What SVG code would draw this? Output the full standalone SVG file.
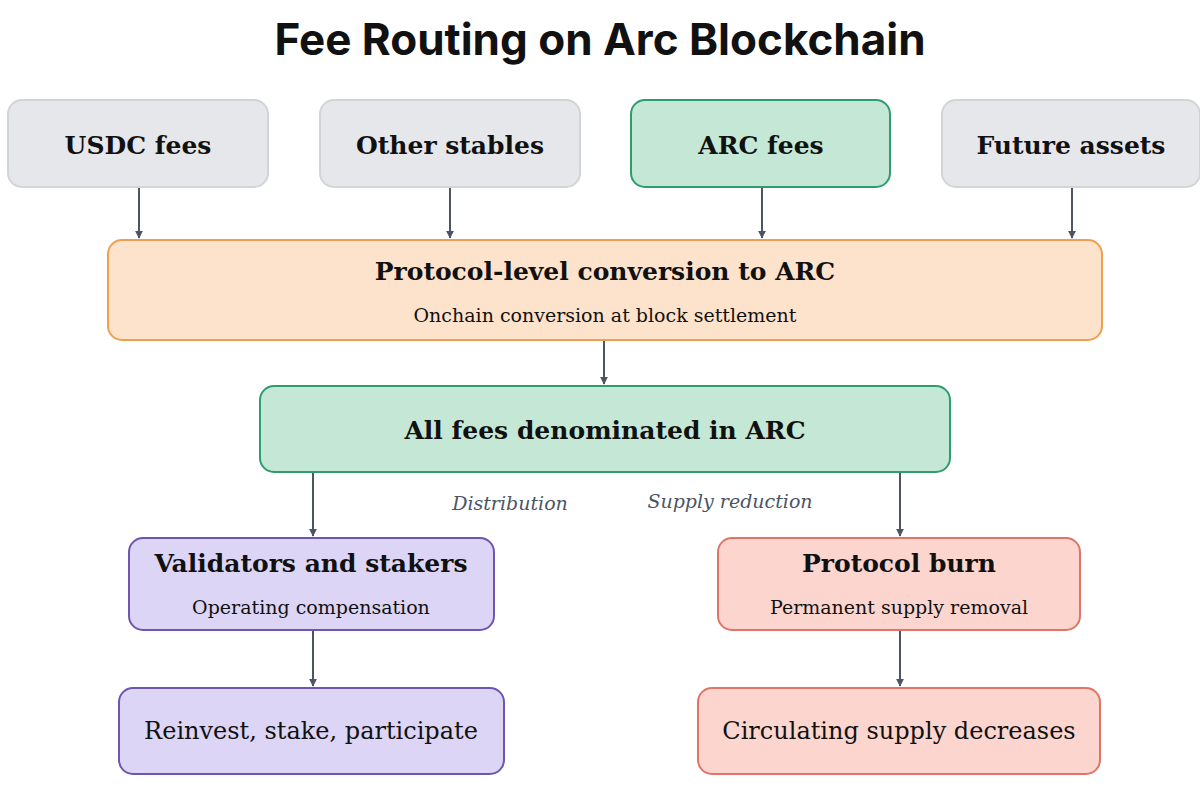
<svg xmlns="http://www.w3.org/2000/svg" width="1200" height="800" viewBox="0 0 1200 800">
<style>
.t{font-family:"DejaVu Serif","Liberation Serif",serif;fill:#111;text-anchor:middle}
.b{font-weight:bold;font-size:25px}
.s{font-size:19px}
.m{font-size:24px}
.i{font-style:italic;font-size:19px;fill:#4b5563}
.gray{fill:#e6e7ea;stroke:#d2d4d8;stroke-width:2}
.green{fill:#c5e8d6;stroke:#2e9c6c;stroke-width:2}
.orange{fill:#fde3cb;stroke:#eea050;stroke-width:2}
.purple{fill:#ddd5f5;stroke:#6e56b0;stroke-width:2}
.red{fill:#fcd5cf;stroke:#e07466;stroke-width:2}
.c{stroke:#4b5563;stroke-width:2;fill:none;marker-end:url(#a)}
</style>
<defs><marker id="a" viewBox="0 0 10 10" refX="9" refY="5" markerWidth="8" markerHeight="8" markerUnits="userSpaceOnUse" orient="auto"><path d="M0,0 L10,5 L0,10 Z" fill="#4b5563"/></marker></defs>
<rect width="1200" height="800" fill="#fff"/>
<text x="600" y="55" text-anchor="middle" font-family="Inter,'Liberation Sans',sans-serif" font-weight="bold" font-size="44" fill="#111">Fee Routing on Arc Blockchain</text>
<g id="connectors">
<line class="c" x1="139" y1="187" x2="139" y2="238"/>
<line class="c" x1="450" y1="187" x2="450" y2="238"/>
<line class="c" x1="762" y1="187" x2="762" y2="238"/>
<line class="c" x1="1072" y1="187" x2="1072" y2="238"/>
<line class="c" x1="604" y1="340" x2="604" y2="384"/>
<line class="c" x1="313" y1="472" x2="313" y2="536"/>
<line class="c" x1="900" y1="472" x2="900" y2="536"/>
<line class="c" x1="313" y1="630" x2="313" y2="686"/>
<line class="c" x1="900" y1="630" x2="900" y2="686"/>
<text class="t i" x="510" y="510">Distribution</text>
<text class="t i" x="730" y="508">Supply reduction</text>
</g>
<g id="usdc"><rect class="gray" x="8" y="100" width="260" height="87" rx="14"/><text class="t b" x="138" y="154">USDC fees</text></g>
<g id="other"><rect class="gray" x="320" y="100" width="260" height="87" rx="14"/><text class="t b" x="450" y="154">Other stables</text></g>
<g id="arc"><rect class="green" x="631" y="100" width="259" height="87" rx="14"/><text class="t b" x="761" y="154">ARC fees</text></g>
<g id="future"><rect class="gray" x="942" y="100" width="258" height="87" rx="14"/><text class="t b" x="1071" y="154">Future assets</text></g>
<g id="conv"><rect class="orange" x="108" y="240" width="994" height="100" rx="14"/><text class="t b" x="605" y="280">Protocol-level conversion to ARC</text><text class="t s" x="605" y="322">Onchain conversion at block settlement</text></g>
<g id="all"><rect class="green" x="260" y="386" width="690" height="86" rx="14"/><text class="t b" x="605" y="439">All fees denominated in ARC</text></g>
<g id="val"><rect class="purple" x="129" y="538" width="365" height="92" rx="14"/><text class="t b" x="311" y="572">Validators and stakers</text><text class="t s" x="311" y="614">Operating compensation</text></g>
<g id="burn"><rect class="red" x="718" y="538" width="362" height="92" rx="14"/><text class="t b" x="899" y="572">Protocol burn</text><text class="t s" x="899" y="614">Permanent supply removal</text></g>
<g id="reinvest"><rect class="purple" x="119" y="688" width="385" height="86" rx="14"/><text class="t m" x="311" y="739">Reinvest, stake, participate</text></g>
<g id="circ"><rect class="red" x="698" y="688" width="402" height="86" rx="14"/><text class="t m" x="899" y="739">Circulating supply decreases</text></g>
</svg>
